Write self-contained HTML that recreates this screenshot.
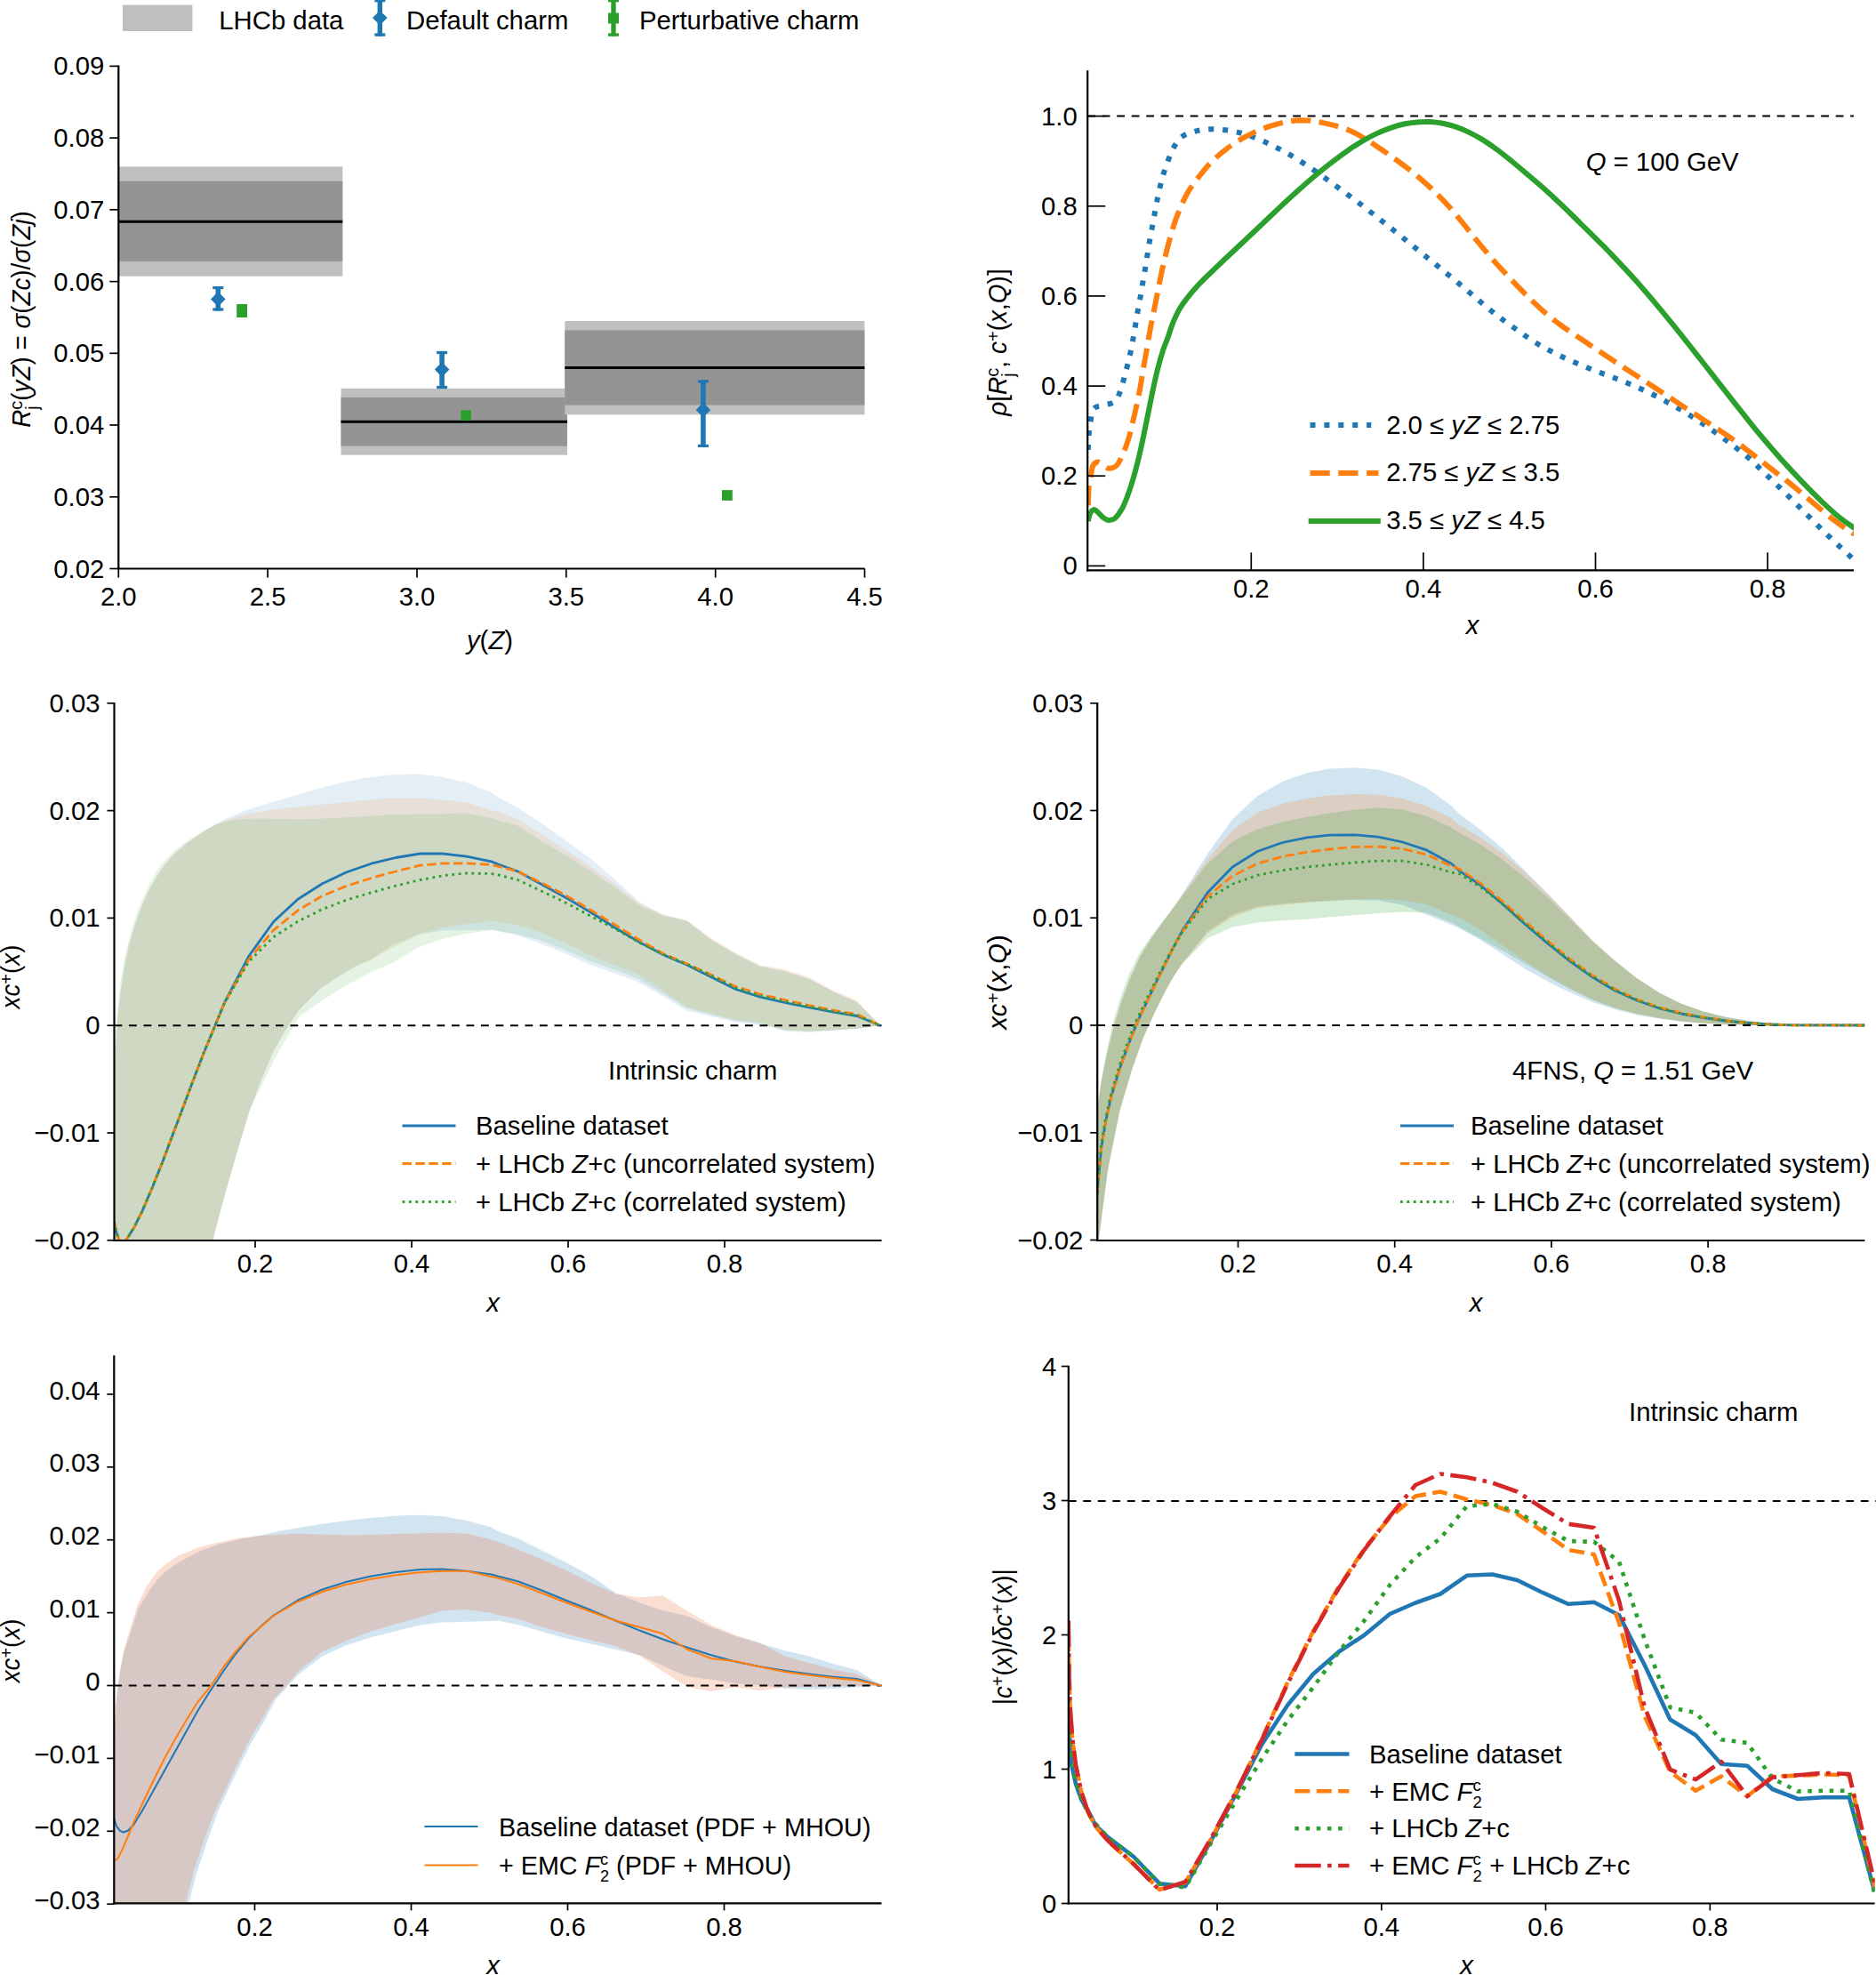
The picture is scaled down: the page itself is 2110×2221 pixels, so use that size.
<!DOCTYPE html>
<html lang="en"><head><meta charset="utf-8"><title>Figure</title>
<style>html,body{margin:0;padding:0;background:#fff}svg{display:block}text{font-family:"Liberation Sans",Arial,Helvetica,sans-serif;fill:#000}</style></head><body>
<svg width="2110" height="2221" viewBox="0 0 2110 2221">
<rect width="2110" height="2221" fill="#fff"/>
<rect x="137.9" y="5.6" width="78.5" height="29.4" fill="#bfbfbf"/>
<text x="246.3" y="33.3" text-anchor="start" font-size="29.3">LHCb data</text>
<line x1="427.3" y1="-5.0" x2="427.3" y2="40.8" stroke="#1f77b4" stroke-width="5.4" stroke-linecap="butt"/>
<line x1="421.3" y1="39.1" x2="433.3" y2="39.1" stroke="#1f77b4" stroke-width="3.4" stroke-linecap="butt"/>
<line x1="421.3" y1="0.6" x2="433.3" y2="0.6" stroke="#1f77b4" stroke-width="3.4" stroke-linecap="butt"/>
<polygon points="427.3,12.0 435.7,20.1 427.3,28.2 418.9,20.1" fill="#1f77b4"/>
<text x="457.0" y="33.3" text-anchor="start" font-size="29.3">Default charm</text>
<line x1="690.0" y1="-5.0" x2="690.0" y2="40.8" stroke="#2ca02c" stroke-width="5.4" stroke-linecap="butt"/>
<line x1="684.0" y1="39.1" x2="696.0" y2="39.1" stroke="#2ca02c" stroke-width="3.4" stroke-linecap="butt"/>
<line x1="684.0" y1="0.6" x2="696.0" y2="0.6" stroke="#2ca02c" stroke-width="3.4" stroke-linecap="butt"/>
<rect x="684.0" y="14.5" width="12" height="12" fill="#2ca02c"/>
<text x="718.9" y="33.3" text-anchor="start" font-size="29.3">Perturbative charm</text>
<rect x="133.3" y="187.3" width="252.0" height="123.4" fill="#bfbfbf"/>
<rect x="133.3" y="203.7" width="252.0" height="90.1" fill="#949494"/>
<line x1="133.3" y1="249.2" x2="385.3" y2="249.2" stroke="#000" stroke-width="3" stroke-linecap="butt"/>
<rect x="383.5" y="437.0" width="254.5" height="74.6" fill="#bfbfbf"/>
<rect x="383.5" y="446.9" width="254.5" height="54.8" fill="#949494"/>
<line x1="383.5" y1="474.3" x2="638.0" y2="474.3" stroke="#000" stroke-width="3" stroke-linecap="butt"/>
<rect x="635.3" y="361.0" width="337.1" height="105.3" fill="#bfbfbf"/>
<rect x="635.3" y="371.5" width="337.1" height="84.1" fill="#949494"/>
<line x1="635.3" y1="413.4" x2="972.4" y2="413.4" stroke="#000" stroke-width="3" stroke-linecap="butt"/>
<line x1="245.3" y1="322.0" x2="245.3" y2="349.6" stroke="#1f77b4" stroke-width="5.6" stroke-linecap="butt"/>
<line x1="239.3" y1="323.6" x2="251.3" y2="323.6" stroke="#1f77b4" stroke-width="3.2" stroke-linecap="butt"/>
<line x1="239.3" y1="348.0" x2="251.3" y2="348.0" stroke="#1f77b4" stroke-width="3.2" stroke-linecap="butt"/>
<polygon points="245.3,328.1 253.6,336.4 245.3,344.7 237.0,336.4" fill="#1f77b4"/>
<line x1="497.1" y1="394.9" x2="497.1" y2="437.1" stroke="#1f77b4" stroke-width="5.6" stroke-linecap="butt"/>
<line x1="491.1" y1="396.5" x2="503.1" y2="396.5" stroke="#1f77b4" stroke-width="3.2" stroke-linecap="butt"/>
<line x1="491.1" y1="435.5" x2="503.1" y2="435.5" stroke="#1f77b4" stroke-width="3.2" stroke-linecap="butt"/>
<polygon points="497.1,407.3 505.4,415.6 497.1,423.9 488.8,415.6" fill="#1f77b4"/>
<line x1="790.9" y1="427.3" x2="790.9" y2="503.0" stroke="#1f77b4" stroke-width="5.6" stroke-linecap="butt"/>
<line x1="784.9" y1="428.9" x2="796.9" y2="428.9" stroke="#1f77b4" stroke-width="3.2" stroke-linecap="butt"/>
<line x1="784.9" y1="501.4" x2="796.9" y2="501.4" stroke="#1f77b4" stroke-width="3.2" stroke-linecap="butt"/>
<polygon points="790.9,452.7 799.2,461.0 790.9,469.3 782.6,461.0" fill="#1f77b4"/>
<rect x="266.2" y="342.0" width="11.8" height="15.0" fill="#2ca02c"/>
<rect x="518.2" y="461.3" width="11.8" height="11.8" fill="#2ca02c"/>
<rect x="812.0" y="551.1" width="11.8" height="11.8" fill="#2ca02c"/>
<line x1="133.3" y1="73.6" x2="133.3" y2="640.6" stroke="#000" stroke-width="2.2" stroke-linecap="butt"/>
<line x1="132.2" y1="639.5" x2="972.5" y2="639.5" stroke="#000" stroke-width="2.2" stroke-linecap="butt"/>
<line x1="133.3" y1="639.5" x2="133.3" y2="649.5" stroke="#000" stroke-width="1.7" stroke-linecap="butt"/>
<text x="133.3" y="680.5" text-anchor="middle" font-size="29.3">2.0</text>
<line x1="301.1" y1="639.5" x2="301.1" y2="649.5" stroke="#000" stroke-width="1.7" stroke-linecap="butt"/>
<text x="301.1" y="680.5" text-anchor="middle" font-size="29.3">2.5</text>
<line x1="469.0" y1="639.5" x2="469.0" y2="649.5" stroke="#000" stroke-width="1.7" stroke-linecap="butt"/>
<text x="469.0" y="680.5" text-anchor="middle" font-size="29.3">3.0</text>
<line x1="636.8" y1="639.5" x2="636.8" y2="649.5" stroke="#000" stroke-width="1.7" stroke-linecap="butt"/>
<text x="636.8" y="680.5" text-anchor="middle" font-size="29.3">3.5</text>
<line x1="804.7" y1="639.5" x2="804.7" y2="649.5" stroke="#000" stroke-width="1.7" stroke-linecap="butt"/>
<text x="804.7" y="680.5" text-anchor="middle" font-size="29.3">4.0</text>
<line x1="972.5" y1="639.5" x2="972.5" y2="649.5" stroke="#000" stroke-width="1.7" stroke-linecap="butt"/>
<text x="972.5" y="680.5" text-anchor="middle" font-size="29.3">4.5</text>
<line x1="123.3" y1="639.5" x2="133.3" y2="639.5" stroke="#000" stroke-width="1.7" stroke-linecap="butt"/>
<text x="117.3" y="649.5" text-anchor="end" font-size="29.3">0.02</text>
<line x1="123.3" y1="558.8" x2="133.3" y2="558.8" stroke="#000" stroke-width="1.7" stroke-linecap="butt"/>
<text x="117.3" y="568.8" text-anchor="end" font-size="29.3">0.03</text>
<line x1="123.3" y1="478.0" x2="133.3" y2="478.0" stroke="#000" stroke-width="1.7" stroke-linecap="butt"/>
<text x="117.3" y="488.0" text-anchor="end" font-size="29.3">0.04</text>
<line x1="123.3" y1="397.3" x2="133.3" y2="397.3" stroke="#000" stroke-width="1.7" stroke-linecap="butt"/>
<text x="117.3" y="407.3" text-anchor="end" font-size="29.3">0.05</text>
<line x1="123.3" y1="316.6" x2="133.3" y2="316.6" stroke="#000" stroke-width="1.7" stroke-linecap="butt"/>
<text x="117.3" y="326.6" text-anchor="end" font-size="29.3">0.06</text>
<line x1="123.3" y1="235.8" x2="133.3" y2="235.8" stroke="#000" stroke-width="1.7" stroke-linecap="butt"/>
<text x="117.3" y="245.8" text-anchor="end" font-size="29.3">0.07</text>
<line x1="123.3" y1="155.1" x2="133.3" y2="155.1" stroke="#000" stroke-width="1.7" stroke-linecap="butt"/>
<text x="117.3" y="165.1" text-anchor="end" font-size="29.3">0.08</text>
<line x1="123.3" y1="74.4" x2="133.3" y2="74.4" stroke="#000" stroke-width="1.7" stroke-linecap="butt"/>
<text x="117.3" y="84.4" text-anchor="end" font-size="29.3">0.09</text>
<text x="551.0" y="729.5" text-anchor="middle" font-size="29.3"><tspan font-style="italic">y</tspan>(<tspan font-style="italic">Z</tspan>)</text>
<text id="vt1" transform="translate(34.2 359.0) rotate(-90) scale(0.95 1)" text-anchor="middle" font-size="29.3"><tspan font-style="italic">R</tspan><tspan font-size="21" dy="-9.6">c</tspan><tspan font-size="21" dy="18.4" dx="-10.5">j</tspan><tspan dy="-8.8" dx="5.8">(</tspan><tspan font-style="italic">yZ</tspan>) = <tspan font-style="italic">σ</tspan>(<tspan font-style="italic">Zc</tspan>)/<tspan font-style="italic">σ</tspan>(<tspan font-style="italic">Zj</tspan>)</text>
<clipPath id="c2"><rect x="1223.2" y="70.0" width="861.8" height="571.3"/></clipPath>
<line x1="1223.2" y1="130.6" x2="2085.0" y2="130.6" stroke="#000" stroke-width="2" stroke-linecap="butt" stroke-dasharray="8.8 7.7"/>
<path d="M1223.8 505.9 C1223.9 503.2 1224.1 495.1 1224.6 489.9 C1225.0 484.7 1225.6 479.8 1226.5 474.7 C1227.4 469.6 1227.7 462.8 1230.2 459.6 C1232.7 456.4 1237.4 457.0 1241.4 455.6 C1245.4 454.2 1251.0 454.3 1254.2 451.2 C1257.5 448.1 1259.1 442.1 1260.9 437.2 C1262.7 432.3 1263.8 426.9 1265.1 422.0 C1266.4 417.1 1267.7 412.5 1268.9 407.6 C1270.1 402.7 1271.3 397.5 1272.3 392.4 C1273.3 387.3 1274.2 382.3 1275.1 377.2 C1276.0 372.1 1276.8 366.8 1277.7 361.8 C1278.6 356.8 1279.3 352.1 1280.2 347.1 C1281.1 342.1 1282.1 337.0 1283.0 331.9 C1283.9 326.8 1284.7 321.7 1285.5 316.7 C1286.3 311.7 1287.3 306.8 1288.1 301.8 C1288.9 296.8 1289.7 291.7 1290.5 286.6 C1291.3 281.5 1292.0 276.5 1292.9 271.4 C1293.8 266.3 1294.9 260.9 1295.8 255.9 C1296.7 250.9 1297.6 246.2 1298.5 241.1 C1299.4 236.0 1300.4 230.6 1301.4 225.5 C1302.4 220.4 1303.5 215.3 1304.7 210.3 C1305.9 205.3 1307.1 200.5 1308.6 195.6 C1310.1 190.7 1311.8 185.7 1313.7 180.8 C1315.6 175.9 1317.3 170.8 1319.8 166.4 C1322.3 162.0 1324.8 157.4 1328.5 154.4 C1332.2 151.4 1337.3 149.8 1342.1 148.4 C1346.8 146.9 1351.9 145.9 1357.0 145.5 C1362.1 145.0 1367.4 145.3 1372.5 145.7 C1377.6 146.0 1382.8 146.7 1387.7 147.7 C1392.6 148.6 1397.2 149.8 1402.1 151.4 C1407.0 153.0 1412.5 155.2 1417.3 157.2 C1422.1 159.2 1426.3 161.2 1430.9 163.5 C1435.5 165.8 1440.3 168.3 1444.8 170.8 C1449.3 173.3 1453.7 175.8 1458.1 178.5 C1462.5 181.2 1467.1 184.1 1471.4 187.0 C1475.7 189.9 1479.9 192.8 1484.1 195.7 C1488.3 198.7 1492.4 201.7 1496.5 204.7 C1500.6 207.7 1504.9 210.8 1508.9 213.8 C1513.0 216.8 1516.7 219.5 1520.8 222.5 C1524.9 225.5 1529.2 228.9 1533.3 232.0 C1537.4 235.1 1541.3 238.2 1545.3 241.4 C1549.3 244.5 1553.3 247.6 1557.3 250.8 C1561.3 254.0 1565.2 257.1 1569.2 260.3 C1573.2 263.5 1577.2 266.8 1581.2 270.1 C1585.2 273.3 1589.2 276.6 1593.2 279.9 C1597.2 283.2 1601.5 286.6 1605.5 289.9 C1609.5 293.2 1613.5 296.3 1617.5 299.6 C1621.5 302.8 1625.2 305.9 1629.2 309.2 C1633.2 312.4 1637.2 315.8 1641.2 319.1 C1645.2 322.4 1649.3 325.8 1653.2 329.2 C1657.1 332.5 1660.8 335.7 1664.7 339.1 C1668.6 342.4 1672.7 345.9 1676.7 349.1 C1680.7 352.3 1684.7 355.4 1688.7 358.4 C1692.7 361.4 1696.6 364.1 1700.7 367.1 C1704.8 370.1 1709.2 373.2 1713.5 376.2 C1717.8 379.1 1721.9 382.0 1726.3 384.8 C1730.7 387.5 1735.4 390.2 1739.9 392.6 C1744.4 395.1 1749.0 397.3 1753.5 399.5 C1758.0 401.7 1762.4 403.7 1767.1 405.8 C1771.8 407.9 1776.7 410.0 1781.5 411.9 C1786.3 413.9 1791.0 415.8 1795.8 417.6 C1800.6 419.4 1805.7 421.2 1810.4 423.0 C1815.2 424.8 1819.5 426.4 1824.3 428.3 C1829.0 430.2 1834.1 432.3 1838.9 434.4 C1843.7 436.4 1848.2 438.5 1852.9 440.7 C1857.6 442.9 1862.4 445.4 1866.9 447.8 C1871.5 450.2 1875.8 452.5 1880.2 455.0 C1884.7 457.5 1889.1 459.9 1893.6 462.6 C1898.1 465.3 1902.8 468.3 1907.0 471.0 C1911.2 473.8 1914.9 476.3 1919.1 479.2 C1923.2 482.0 1927.8 485.2 1931.9 488.2 C1936.1 491.2 1940.0 494.2 1944.0 497.2 C1948.0 500.2 1952.2 503.1 1956.2 506.3 C1960.2 509.5 1964.4 512.9 1968.3 516.3 C1972.2 519.8 1975.8 523.4 1979.6 527.0 C1983.4 530.6 1987.3 534.4 1991.0 538.0 C1994.7 541.6 1998.2 545.0 2001.9 548.5 C2005.6 552.1 2009.2 555.7 2012.9 559.3 C2016.6 563.0 2020.2 566.6 2023.8 570.2 C2027.4 573.8 2031.1 577.5 2034.8 581.2 C2038.5 584.9 2042.1 588.5 2045.7 592.1 C2049.3 595.7 2052.9 599.3 2056.6 602.8 C2060.3 606.4 2064.2 610.0 2068.0 613.5 C2071.8 617.1 2076.4 621.3 2079.4 624.1 C2082.4 627.0 2084.9 629.4 2086.0 630.5" fill="none" stroke="#1f77b4" stroke-width="6" stroke-linejoin="round" stroke-dasharray="6 9.9" clip-path="url(#c2)"/>
<path d="M1223.8 568.3 C1223.9 565.1 1224.1 554.7 1224.6 549.1 C1225.1 543.5 1226.2 539.0 1227.0 534.7 C1227.8 530.4 1228.1 526.0 1229.4 523.5 C1230.7 521.0 1233.1 519.6 1235.0 519.5 C1236.9 519.4 1238.6 521.5 1240.6 522.7 C1242.6 523.9 1244.5 526.6 1247.0 526.7 C1249.5 526.8 1253.1 526.2 1255.8 523.5 C1258.5 520.8 1260.7 515.8 1263.0 510.7 C1265.3 505.6 1267.5 499.2 1269.4 493.1 C1271.3 487.0 1272.6 480.6 1274.2 474.0 C1275.8 467.4 1277.5 460.1 1279.0 453.2 C1280.5 446.3 1281.8 439.3 1283.0 432.4 C1284.2 425.5 1285.3 418.5 1286.5 411.6 C1287.7 404.7 1289.0 397.7 1290.2 390.8 C1291.4 383.9 1292.1 378.5 1293.7 370.0 C1295.3 361.5 1297.7 350.5 1299.8 339.9 C1301.9 329.3 1304.1 317.2 1306.5 306.3 C1308.9 295.4 1311.5 284.4 1314.2 274.3 C1316.9 264.2 1319.5 254.8 1322.9 245.5 C1326.4 236.2 1330.5 226.3 1334.9 218.3 C1339.3 210.3 1344.5 203.8 1349.3 197.6 C1354.1 191.4 1358.6 186.0 1363.7 181.0 C1368.8 175.9 1374.1 171.5 1379.7 167.3 C1385.3 163.1 1392.2 158.7 1397.3 155.7 C1402.4 152.7 1405.6 151.2 1410.1 149.1 C1414.6 147.0 1419.7 145.0 1424.5 143.2 C1429.3 141.5 1434.4 140.0 1438.9 138.8 C1443.4 137.7 1447.7 136.8 1451.7 136.3 C1455.7 135.7 1459.2 135.4 1462.9 135.3 C1466.6 135.3 1470.1 135.4 1474.1 135.8 C1478.1 136.3 1482.4 137.0 1486.9 137.9 C1491.4 138.8 1496.5 139.9 1501.3 141.2 C1506.1 142.6 1510.9 143.9 1516.0 146.0 C1521.1 148.1 1526.7 151.0 1532.0 154.0 C1537.3 157.0 1542.7 160.7 1548.0 164.2 C1553.3 167.7 1558.7 171.4 1564.0 175.2 C1569.3 179.0 1574.7 182.7 1580.0 186.8 C1585.3 190.9 1590.7 195.1 1596.0 199.6 C1601.3 204.1 1606.6 208.8 1611.9 213.9 C1617.2 219.0 1622.6 224.4 1627.9 230.3 C1633.2 236.2 1638.6 242.6 1643.9 249.1 C1649.2 255.6 1654.6 262.6 1659.9 269.1 C1665.2 275.6 1670.6 282.1 1675.9 288.3 C1681.2 294.5 1686.6 300.3 1691.9 306.1 C1697.2 311.9 1702.6 317.4 1707.9 322.9 C1713.2 328.4 1718.6 333.8 1723.9 338.9 C1729.2 344.0 1734.6 349.0 1739.9 353.6 C1745.2 358.1 1750.6 362.1 1755.9 366.0 C1761.2 369.9 1767.2 373.7 1771.9 376.9 C1776.6 380.0 1780.0 382.3 1784.0 385.0 C1788.0 387.7 1789.6 388.8 1795.8 393.0 C1802.0 397.1 1812.7 404.2 1821.3 409.9 C1829.9 415.6 1838.7 421.3 1847.4 427.0 C1856.1 432.7 1865.0 438.4 1873.6 444.1 C1882.2 449.8 1890.6 455.4 1899.1 461.0 C1907.6 466.6 1916.1 472.1 1924.6 477.8 C1933.1 483.4 1943.1 490.0 1950.1 494.9 C1957.1 499.8 1961.7 503.6 1966.4 507.2 C1971.1 510.7 1974.2 513.4 1978.2 516.5 C1982.2 519.5 1986.1 522.5 1990.1 525.6 C1994.1 528.7 1998.3 531.9 2002.4 535.1 C2006.5 538.3 2010.7 541.6 2014.7 544.9 C2018.7 548.2 2022.5 551.4 2026.5 554.7 C2030.5 558.0 2034.5 561.5 2038.4 564.8 C2042.4 568.1 2046.2 571.5 2050.2 574.8 C2054.1 578.1 2058.6 581.7 2062.1 584.4 C2065.6 587.2 2068.2 589.0 2071.2 591.2 C2074.2 593.4 2077.8 595.8 2080.3 597.4 C2082.8 599.0 2085.1 600.4 2086.0 601.0" fill="none" stroke="#ff7f0e" stroke-width="6" stroke-linejoin="round" stroke-dasharray="22.2 9.6" clip-path="url(#c2)"/>
<path d="M1223.8 585.9 C1224.2 584.4 1225.1 579.2 1226.2 577.1 C1227.3 575.0 1228.9 573.4 1230.2 573.1 C1231.5 572.8 1232.5 574.0 1234.2 575.5 C1235.9 577.0 1238.5 580.3 1240.6 581.9 C1242.7 583.5 1244.7 585.0 1247.0 585.1 C1249.3 585.2 1251.8 584.7 1254.2 582.7 C1256.6 580.7 1259.1 577.1 1261.4 573.1 C1263.7 569.1 1265.7 564.3 1267.8 558.7 C1269.9 553.1 1272.2 546.2 1274.2 539.5 C1276.2 532.8 1278.1 525.6 1279.8 518.7 C1281.5 511.8 1283.1 504.8 1284.6 497.9 C1286.1 491.0 1287.4 484.3 1288.9 477.1 C1290.4 469.9 1291.9 462.0 1293.4 454.8 C1294.9 447.6 1296.2 440.9 1297.7 434.0 C1299.2 427.1 1300.7 420.1 1302.5 413.2 C1304.3 406.3 1306.8 397.9 1308.6 392.4 C1310.4 386.9 1311.7 384.8 1313.4 380.0 C1315.1 375.2 1316.7 369.4 1318.9 363.9 C1321.2 358.4 1324.0 352.1 1326.9 347.1 C1329.8 342.1 1333.0 338.1 1336.5 333.6 C1340.0 329.2 1343.2 325.4 1347.7 320.5 C1352.2 315.7 1357.8 310.3 1363.7 304.7 C1369.6 299.0 1376.5 292.5 1382.9 286.5 C1389.3 280.5 1395.7 274.5 1402.1 268.5 C1408.5 262.5 1414.9 256.4 1421.3 250.3 C1427.7 244.2 1434.1 238.1 1440.5 232.1 C1446.9 226.1 1453.3 220.2 1459.7 214.5 C1466.1 208.8 1472.8 203.0 1478.9 197.8 C1485.0 192.7 1490.3 188.3 1496.5 183.6 C1502.7 178.8 1510.1 173.3 1516.0 169.2 C1521.9 165.1 1526.7 162.0 1532.0 158.9 C1537.3 155.7 1542.7 152.9 1548.0 150.4 C1553.3 147.8 1558.7 145.6 1564.0 143.8 C1569.3 141.9 1574.7 140.4 1580.0 139.3 C1585.3 138.3 1591.2 137.6 1596.0 137.2 C1600.8 136.8 1604.5 136.8 1608.7 137.0 C1613.0 137.3 1617.0 137.7 1621.5 138.5 C1626.0 139.4 1630.8 140.5 1635.9 142.2 C1641.0 143.9 1646.6 146.1 1651.9 148.6 C1657.2 151.1 1662.6 154.1 1667.9 157.4 C1673.2 160.7 1678.6 164.5 1683.9 168.4 C1689.2 172.3 1694.6 176.7 1699.9 181.0 C1705.2 185.3 1710.6 189.9 1715.9 194.4 C1721.2 198.9 1726.6 203.4 1731.9 208.1 C1737.2 212.8 1742.6 217.6 1747.9 222.5 C1753.2 227.4 1758.6 232.5 1763.9 237.7 C1769.2 242.9 1773.9 247.5 1779.9 253.5 C1785.9 259.4 1795.3 268.7 1800.0 273.4 C1804.7 278.0 1801.1 274.1 1807.9 281.3 C1814.7 288.5 1829.2 303.6 1840.8 316.6 C1852.3 329.7 1865.0 344.8 1877.2 359.6 C1889.4 374.4 1901.6 390.1 1913.7 405.5 C1925.8 420.9 1940.4 439.8 1950.1 452.2 C1959.8 464.5 1966.5 472.8 1971.9 479.6 C1977.4 486.4 1978.7 487.9 1982.8 492.8 C1986.9 497.6 1992.0 503.5 1996.5 508.7 C2001.0 513.9 2005.5 518.9 2010.1 523.9 C2014.6 528.9 2019.2 533.7 2023.8 538.5 C2028.4 543.3 2032.9 548.0 2037.5 552.6 C2042.1 557.2 2046.6 561.8 2051.2 566.1 C2055.8 570.4 2061.0 575.2 2064.8 578.5 C2068.6 581.7 2070.4 583.1 2073.9 585.7 C2077.4 588.2 2084.0 592.6 2086.0 594.0" fill="none" stroke="#2ca02c" stroke-width="6" stroke-linejoin="round" clip-path="url(#c2)"/>
<text x="1783.7" y="191.6" text-anchor="start" font-size="29.3"><tspan font-style="italic">Q</tspan> = 100 GeV</text>
<line x1="1473.5" y1="478.1" x2="1542.2" y2="478.1" stroke="#1f77b4" stroke-width="6" stroke-linecap="butt" stroke-dasharray="6 9.9"/>
<line x1="1473.5" y1="531.9" x2="1550.5" y2="531.9" stroke="#ff7f0e" stroke-width="6" stroke-linecap="butt" stroke-dasharray="22.2 9.6"/>
<line x1="1471.7" y1="585.9" x2="1552.8" y2="585.9" stroke="#2ca02c" stroke-width="6" stroke-linecap="butt"/>
<text x="1559.2" y="487.6" text-anchor="start" font-size="29.3">2.0 ≤ <tspan font-style="italic">yZ</tspan> ≤ 2.75</text>
<text x="1559.2" y="541.4" text-anchor="start" font-size="29.3">2.75 ≤ <tspan font-style="italic">yZ</tspan> ≤ 3.5</text>
<text x="1559.2" y="595.2" text-anchor="start" font-size="29.3">3.5 ≤ <tspan font-style="italic">yZ</tspan> ≤ 4.5</text>
<line x1="1223.2" y1="79.2" x2="1223.2" y2="642.4" stroke="#000" stroke-width="2.2" stroke-linecap="butt"/>
<line x1="1222.1" y1="641.3" x2="2085.0" y2="641.3" stroke="#000" stroke-width="2.2" stroke-linecap="butt"/>
<line x1="1407.3" y1="641.3" x2="1407.3" y2="621.3" stroke="#000" stroke-width="1.7" stroke-linecap="butt"/>
<text x="1407.3" y="671.8" text-anchor="middle" font-size="29.3">0.2</text>
<line x1="1600.9" y1="641.3" x2="1600.9" y2="621.3" stroke="#000" stroke-width="1.7" stroke-linecap="butt"/>
<text x="1600.9" y="671.8" text-anchor="middle" font-size="29.3">0.4</text>
<line x1="1794.5" y1="641.3" x2="1794.5" y2="621.3" stroke="#000" stroke-width="1.7" stroke-linecap="butt"/>
<text x="1794.5" y="671.8" text-anchor="middle" font-size="29.3">0.6</text>
<line x1="1988.1" y1="641.3" x2="1988.1" y2="621.3" stroke="#000" stroke-width="1.7" stroke-linecap="butt"/>
<text x="1988.1" y="671.8" text-anchor="middle" font-size="29.3">0.8</text>
<line x1="1223.2" y1="636.4" x2="1243.2" y2="636.4" stroke="#000" stroke-width="1.7" stroke-linecap="butt"/>
<text x="1211.8" y="646.4" text-anchor="end" font-size="29.3">0</text>
<line x1="1223.2" y1="535.2" x2="1243.2" y2="535.2" stroke="#000" stroke-width="1.7" stroke-linecap="butt"/>
<text x="1211.8" y="545.2" text-anchor="end" font-size="29.3">0.2</text>
<line x1="1223.2" y1="434.1" x2="1243.2" y2="434.1" stroke="#000" stroke-width="1.7" stroke-linecap="butt"/>
<text x="1211.8" y="444.1" text-anchor="end" font-size="29.3">0.4</text>
<line x1="1223.2" y1="332.9" x2="1243.2" y2="332.9" stroke="#000" stroke-width="1.7" stroke-linecap="butt"/>
<text x="1211.8" y="342.9" text-anchor="end" font-size="29.3">0.6</text>
<line x1="1223.2" y1="231.8" x2="1243.2" y2="231.8" stroke="#000" stroke-width="1.7" stroke-linecap="butt"/>
<text x="1211.8" y="241.8" text-anchor="end" font-size="29.3">0.8</text>
<line x1="1223.2" y1="130.6" x2="1243.2" y2="130.6" stroke="#000" stroke-width="1.7" stroke-linecap="butt"/>
<text x="1211.8" y="140.6" text-anchor="end" font-size="29.3">1.0</text>
<text x="1656.0" y="713.0" text-anchor="middle" font-size="29.3"><tspan font-style="italic">x</tspan></text>
<text id="vt2" transform="translate(1132.4 385.0) rotate(-90) scale(0.957 1)" text-anchor="middle" font-size="29.3"><tspan font-style="italic">ρ</tspan>[<tspan font-style="italic">R</tspan><tspan font-size="21" dy="-9.6">c</tspan><tspan font-size="21" dy="18.4" dx="-10.5">j</tspan><tspan dy="-8.8" dx="5.8">, </tspan><tspan font-style="italic">c</tspan><tspan font-size="21" dy="-8.5">+</tspan><tspan dy="8.5">(</tspan><tspan font-style="italic">x</tspan>,<tspan font-style="italic">Q</tspan>)]</text>
<clipPath id="c3"><rect x="128.5" y="780.0" width="863.0" height="615.0"/></clipPath>
<polygon points="128.0,1212.5 129.5,1187.5 131.5,1153.2 135.0,1119.2 139.5,1089.5 145.2,1062.2 152.0,1039.5 159.0,1020.0 167.0,1002.0 176.0,986.0 185.2,972.2 196.5,959.8 210.2,948.2 226.2,937.0 242.0,926.8 255.8,920.0 274.0,912.0 292.2,906.2 315.0,899.5 337.8,893.0 360.0,886.2 385.0,880.0 410.0,875.0 440.0,871.2 470.0,870.5 497.5,873.8 525.0,880.0 552.5,891.2 560.0,896.2 582.5,908.8 610.0,926.2 637.5,946.2 665.0,966.2 692.5,990.0 720.0,1015.0 746.2,1028.8 772.5,1035.0 800.0,1056.2 827.5,1072.5 855.0,1086.2 882.5,1091.2 910.0,1100.0 937.5,1115.0 963.8,1126.2 990.0,1153.2 990.0,1153.2 963.8,1157.0 937.5,1158.8 910.0,1160.0 882.5,1158.8 855.0,1152.5 827.5,1149.5 800.0,1143.0 772.0,1136.4 745.0,1120.0 716.3,1103.8 690.0,1094.0 662.6,1084.6 635.0,1072.0 607.0,1060.6 582.0,1052.0 553.2,1045.8 525.0,1046.0 497.6,1046.6 472.6,1050.2 440.0,1063.5 417.0,1079.0 401.7,1085.8 378.7,1099.2 359.5,1112.6 336.4,1135.7 321.1,1158.7 307.7,1181.7 292.3,1218.2 280.8,1248.9 273.1,1273.8 263.5,1306.4 252.0,1346.7 244.3,1375.5 239.5,1394.7 233.0,1420.0 128.5,1420.0" fill="#1f77b4" fill-opacity="0.125" stroke="none" clip-path="url(#c3)"/>
<polygon points="128.0,1212.5 129.5,1187.5 131.5,1153.2 135.0,1119.2 139.5,1089.5 145.2,1062.2 152.0,1039.5 159.0,1020.0 167.0,1002.0 176.0,986.0 185.2,972.2 196.5,959.8 210.2,948.2 226.2,937.0 242.0,927.8 255.8,922.0 274.0,916.5 292.2,913.0 315.0,909.5 337.8,907.2 360.0,905.0 385.0,902.5 410.0,900.0 440.0,897.5 470.0,897.5 497.5,899.5 525.0,902.5 552.5,911.2 560.0,912.5 582.5,921.2 610.0,938.8 637.5,956.2 665.0,975.0 692.5,995.0 720.0,1016.2 746.2,1028.8 772.5,1035.0 800.0,1055.0 827.5,1071.2 855.0,1085.0 882.5,1090.0 910.0,1098.8 937.5,1113.8 963.8,1125.0 990.0,1153.2 990.0,1153.2 963.8,1156.5 937.5,1158.0 910.0,1159.5 882.5,1158.0 855.0,1150.0 827.5,1146.8 800.0,1140.0 772.0,1132.6 745.0,1113.0 716.3,1095.1 690.0,1085.0 662.6,1074.0 635.0,1060.0 607.0,1048.1 582.0,1040.4 553.2,1035.7 525.0,1039.0 497.6,1043.3 472.6,1050.2 440.0,1066.4 417.0,1080.0 401.7,1085.8 378.7,1099.2 359.5,1112.6 336.4,1135.7 321.1,1158.7 307.7,1181.7 292.3,1218.2 280.8,1248.9 273.1,1273.8 263.5,1306.4 252.0,1346.7 244.3,1375.5 239.5,1394.7 233.0,1420.0 128.5,1420.0" fill="#ff7f0e" fill-opacity="0.125" stroke="none" clip-path="url(#c3)"/>
<polygon points="128.0,1200.0 129.5,1176.0 131.5,1142.0 135.0,1107.8 139.5,1080.5 145.2,1055.5 152.0,1032.5 159.0,1014.5 167.0,996.2 176.0,980.2 185.2,967.8 196.5,956.2 210.2,946.0 226.2,935.8 242.0,927.8 255.8,923.2 274.0,921.0 292.2,920.5 315.0,921.0 337.8,921.2 360.0,920.8 385.0,919.5 410.0,918.0 440.0,916.2 470.0,915.5 497.5,915.5 525.0,914.5 552.5,920.0 560.0,922.5 582.5,928.8 610.0,946.2 637.5,962.5 665.0,980.0 692.5,998.8 720.0,1018.8 746.2,1030.0 772.5,1035.8 800.0,1057.0 827.5,1073.2 855.0,1087.0 882.5,1092.5 910.0,1101.2 937.5,1115.8 963.8,1127.0 990.0,1153.2 990.0,1153.2 963.8,1157.0 937.5,1158.8 910.0,1160.8 882.5,1159.5 855.0,1151.2 827.5,1148.0 800.0,1141.2 772.0,1133.5 745.0,1117.0 716.3,1099.9 690.0,1090.0 662.6,1080.2 635.0,1068.0 607.0,1057.1 582.0,1050.4 553.2,1045.6 525.0,1050.0 497.6,1055.8 472.6,1064.4 440.0,1083.6 417.0,1093.4 388.3,1108.8 359.5,1127.0 336.4,1143.3 309.6,1189.4 295.0,1219.0 280.8,1248.9 273.1,1273.8 263.5,1306.4 252.0,1346.7 244.3,1375.5 239.5,1394.7 233.0,1420.0 128.5,1420.0" fill="#2ca02c" fill-opacity="0.125" stroke="none" clip-path="url(#c3)"/>
<line x1="128.5" y1="1153.2" x2="991.5" y2="1153.2" stroke="#000" stroke-width="2" stroke-linecap="butt" stroke-dasharray="8.8 7.7"/>
<polyline points="128.2,1373.6 131.0,1386.0 134.0,1394.7 138.0,1398.0 141.7,1394.7 150.3,1381.3 159.9,1362.1 171.4,1335.2 182.9,1306.4 194.4,1275.7 206.0,1245.0 217.5,1214.3 229.0,1184.6 242.0,1153.1 252.5,1127.5 280.0,1075.0 307.5,1036.8 335.0,1011.2 362.5,993.8 390.0,980.8 417.5,971.2 445.0,964.5 472.5,960.0 497.5,960.0 525.0,963.2 552.5,968.8 560.0,971.8 582.5,980.0 610.0,995.0 637.5,1010.0 665.0,1026.2 692.5,1043.8 720.0,1060.0 746.2,1073.8 772.5,1085.0 800.0,1098.8 827.5,1112.5 855.0,1121.2 882.5,1127.5 910.0,1133.0 937.5,1138.2 963.8,1142.5 990.0,1153.2" fill="none" stroke="#1f77b4" stroke-width="2.8" stroke-linecap="butt" stroke-linejoin="round" clip-path="url(#c3)"/>
<polyline points="128.2,1373.6 131.0,1386.0 134.0,1394.7 138.0,1398.0 141.7,1394.7 150.3,1381.3 159.9,1362.1 171.4,1335.2 182.9,1306.4 194.4,1275.7 206.0,1245.0 217.5,1214.3 229.0,1184.6 242.0,1153.1 252.5,1127.8 280.0,1078.8 307.5,1046.2 335.0,1023.8 362.5,1007.5 390.0,996.2 417.5,987.5 445.0,980.0 472.5,973.2 500.0,970.8 525.0,970.8 552.5,972.5 560.0,974.2 582.5,980.0 610.0,993.2 637.5,1007.5 665.0,1023.8 692.5,1040.5 720.0,1057.5 746.2,1072.5 772.5,1083.8 800.0,1096.2 827.5,1109.5 855.0,1118.0 882.5,1124.5 910.0,1130.5 937.5,1136.2 963.8,1140.8 990.0,1153.2" fill="none" stroke="#ff7f0e" stroke-width="2.8" stroke-linecap="butt" stroke-linejoin="round" stroke-dasharray="10.4 4.5" clip-path="url(#c3)"/>
<polyline points="128.2,1373.6 131.0,1386.0 134.0,1394.7 138.0,1398.0 141.7,1394.7 150.3,1381.3 159.9,1362.1 171.4,1335.2 182.9,1306.4 194.4,1275.7 206.0,1245.0 217.5,1214.3 229.0,1184.6 242.0,1153.1 252.5,1128.0 280.0,1081.2 307.5,1053.8 335.0,1036.2 362.5,1022.5 390.0,1012.0 417.5,1003.8 445.0,996.2 472.5,989.5 500.0,984.5 525.0,982.0 552.5,982.5 560.0,983.8 582.5,989.5 610.0,1002.5 637.5,1015.8 665.0,1030.5 692.5,1045.0 720.0,1060.5 746.2,1073.2 772.5,1084.2 800.0,1097.0 827.5,1110.8 855.0,1120.0 882.5,1126.2 910.0,1132.0 937.5,1137.5 963.8,1142.0 990.0,1153.2" fill="none" stroke="#2ca02c" stroke-width="2.8" stroke-linecap="butt" stroke-linejoin="round" stroke-dasharray="2.8 4.6" clip-path="url(#c3)"/>
<text x="684.0" y="1213.5" text-anchor="start" font-size="29.3">Intrinsic charm</text>
<line x1="452.5" y1="1266.0" x2="512.5" y2="1266.0" stroke="#1f77b4" stroke-width="2.8" stroke-linecap="butt"/>
<line x1="452.5" y1="1308.5" x2="512.5" y2="1308.5" stroke="#ff7f0e" stroke-width="2.8" stroke-linecap="butt" stroke-dasharray="10.4 4.5"/>
<line x1="452.5" y1="1351.5" x2="512.5" y2="1351.5" stroke="#2ca02c" stroke-width="2.8" stroke-linecap="butt" stroke-dasharray="2.8 4.6"/>
<text x="535.0" y="1276.0" text-anchor="start" font-size="29.3">Baseline dataset</text>
<text x="535.0" y="1318.5" text-anchor="start" font-size="29.3">+ LHCb <tspan font-style="italic">Z</tspan>+c (uncorrelated system)</text>
<text x="535.0" y="1361.5" text-anchor="start" font-size="29.3">+ LHCb <tspan font-style="italic">Z</tspan>+c (correlated system)</text>
<line x1="128.5" y1="790.1" x2="128.5" y2="1396.1" stroke="#000" stroke-width="2.2" stroke-linecap="butt"/>
<line x1="127.4" y1="1395.0" x2="991.5" y2="1395.0" stroke="#000" stroke-width="2.2" stroke-linecap="butt"/>
<line x1="287.0" y1="1395.0" x2="287.0" y2="1403.0" stroke="#000" stroke-width="1.7" stroke-linecap="butt"/>
<text x="287.0" y="1430.8" text-anchor="middle" font-size="29.3">0.2</text>
<line x1="463.0" y1="1395.0" x2="463.0" y2="1403.0" stroke="#000" stroke-width="1.7" stroke-linecap="butt"/>
<text x="463.0" y="1430.8" text-anchor="middle" font-size="29.3">0.4</text>
<line x1="639.0" y1="1395.0" x2="639.0" y2="1403.0" stroke="#000" stroke-width="1.7" stroke-linecap="butt"/>
<text x="639.0" y="1430.8" text-anchor="middle" font-size="29.3">0.6</text>
<line x1="815.0" y1="1395.0" x2="815.0" y2="1403.0" stroke="#000" stroke-width="1.7" stroke-linecap="butt"/>
<text x="815.0" y="1430.8" text-anchor="middle" font-size="29.3">0.8</text>
<line x1="120.5" y1="1394.8" x2="128.5" y2="1394.8" stroke="#000" stroke-width="1.7" stroke-linecap="butt"/>
<text x="112.5" y="1404.8" text-anchor="end" font-size="29.3">−0.02</text>
<line x1="120.5" y1="1274.0" x2="128.5" y2="1274.0" stroke="#000" stroke-width="1.7" stroke-linecap="butt"/>
<text x="112.5" y="1284.0" text-anchor="end" font-size="29.3">−0.01</text>
<line x1="120.5" y1="1153.2" x2="128.5" y2="1153.2" stroke="#000" stroke-width="1.7" stroke-linecap="butt"/>
<text x="112.5" y="1163.2" text-anchor="end" font-size="29.3">0</text>
<line x1="120.5" y1="1032.4" x2="128.5" y2="1032.4" stroke="#000" stroke-width="1.7" stroke-linecap="butt"/>
<text x="112.5" y="1042.4" text-anchor="end" font-size="29.3">0.01</text>
<line x1="120.5" y1="911.6" x2="128.5" y2="911.6" stroke="#000" stroke-width="1.7" stroke-linecap="butt"/>
<text x="112.5" y="921.6" text-anchor="end" font-size="29.3">0.02</text>
<line x1="120.5" y1="790.8" x2="128.5" y2="790.8" stroke="#000" stroke-width="1.7" stroke-linecap="butt"/>
<text x="112.5" y="800.8" text-anchor="end" font-size="29.3">0.03</text>
<text x="554.5" y="1474.7" text-anchor="middle" font-size="29.3"><tspan font-style="italic">x</tspan></text>
<text id="vt3" transform="translate(22.0 1098.5) rotate(-90) scale(0.95 1)" text-anchor="middle" font-size="29.3"><tspan font-style="italic">xc</tspan><tspan font-size="21" dy="-8.5">+</tspan><tspan dy="8.5">(</tspan><tspan font-style="italic">x</tspan>)</text>
<clipPath id="c4"><rect x="1234.2" y="780.0" width="863.1" height="615.0"/></clipPath>
<polygon points="1234.2,1245.0 1238.8,1215.0 1245.0,1185.0 1252.5,1155.0 1260.0,1130.0 1270.0,1102.5 1282.5,1075.0 1295.0,1055.0 1307.5,1037.5 1320.0,1020.0 1330.0,1005.0 1358.2,960.0 1386.2,921.2 1414.2,895.0 1442.5,878.8 1470.0,869.2 1495.0,864.5 1522.5,863.2 1550.0,865.5 1577.5,873.2 1605.0,886.2 1632.5,906.2 1641.0,915.0 1666.0,933.8 1691.0,955.0 1716.0,980.0 1741.0,1005.0 1766.0,1031.2 1791.0,1057.5 1816.0,1080.0 1841.0,1100.0 1866.0,1116.2 1891.0,1128.8 1916.0,1137.5 1941.0,1143.8 1966.0,1148.0 1991.0,1150.8 2016.0,1152.2 2066.0,1152.8 2097.2,1152.8 2097.2,1153.2 1966.0,1152.8 1941.0,1152.0 1916.0,1150.8 1891.0,1148.8 1866.0,1145.5 1841.0,1141.2 1816.0,1135.0 1791.0,1127.0 1766.0,1116.2 1741.0,1103.8 1716.0,1090.0 1691.0,1073.8 1666.0,1057.5 1641.0,1043.8 1632.5,1040.0 1605.0,1028.8 1577.5,1017.5 1550.0,1012.5 1522.5,1012.0 1495.0,1013.0 1470.0,1014.2 1442.5,1016.2 1414.2,1019.5 1386.2,1028.8 1358.2,1047.5 1330.0,1082.5 1321.2,1096.2 1312.2,1111.8 1299.0,1138.0 1285.8,1167.0 1272.8,1204.0 1259.5,1248.8 1246.2,1314.5 1235.8,1393.5 1235.0,1415.0 1234.2,1415.0" fill="#1f77b4" fill-opacity="0.2" stroke="none" clip-path="url(#c4)"/>
<polygon points="1234.2,1245.0 1238.8,1215.0 1245.0,1185.0 1252.5,1155.0 1260.0,1130.0 1270.0,1102.5 1282.5,1075.0 1295.0,1055.0 1307.5,1037.5 1320.0,1020.5 1330.0,1006.2 1358.2,966.2 1386.2,933.8 1414.2,913.8 1442.5,903.8 1470.0,898.0 1495.0,894.5 1522.5,893.0 1550.0,893.8 1577.5,898.0 1605.0,906.8 1632.5,920.0 1641.0,927.5 1666.0,942.5 1691.0,960.0 1716.0,982.0 1741.0,1005.5 1766.0,1031.2 1791.0,1057.5 1816.0,1080.0 1841.0,1100.0 1866.0,1116.2 1891.0,1128.8 1916.0,1137.5 1941.0,1143.8 1966.0,1148.0 1991.0,1150.8 2016.0,1152.2 2066.0,1152.8 2097.2,1152.8 2097.2,1153.2 1966.0,1152.8 1941.0,1152.0 1916.0,1150.8 1891.0,1148.5 1866.0,1145.0 1841.0,1140.0 1816.0,1133.0 1791.0,1123.8 1766.0,1111.2 1741.0,1097.5 1716.0,1081.2 1691.0,1063.8 1666.0,1046.2 1641.0,1031.2 1632.5,1028.8 1605.0,1017.0 1577.5,1012.5 1550.0,1010.8 1522.5,1011.2 1495.0,1013.0 1470.0,1015.0 1442.5,1017.5 1414.2,1021.2 1386.2,1031.2 1358.2,1049.5 1330.0,1083.8 1321.2,1096.2 1312.2,1111.8 1299.0,1138.0 1285.8,1167.0 1272.8,1204.0 1259.5,1248.8 1246.2,1314.5 1235.8,1393.5 1235.0,1415.0 1234.2,1415.0" fill="#ff7f0e" fill-opacity="0.2" stroke="none" clip-path="url(#c4)"/>
<polygon points="1234.2,1250.0 1238.8,1215.0 1245.0,1180.0 1252.5,1147.5 1260.0,1122.5 1270.0,1095.0 1282.5,1070.0 1295.0,1052.5 1307.5,1036.2 1320.0,1020.5 1330.0,1007.5 1358.2,971.2 1386.2,946.2 1414.2,932.5 1442.5,924.2 1470.0,918.8 1495.0,914.5 1522.5,910.8 1550.0,908.2 1577.5,910.5 1605.0,918.0 1632.5,930.5 1641.0,936.2 1666.0,950.0 1691.0,967.5 1716.0,987.5 1741.0,1009.5 1766.0,1033.8 1791.0,1058.8 1816.0,1080.5 1841.0,1100.2 1866.0,1116.2 1891.0,1128.8 1916.0,1137.5 1941.0,1143.8 1966.0,1148.0 1991.0,1150.8 2016.0,1152.2 2066.0,1152.8 2097.2,1152.8 2097.2,1153.2 1966.0,1152.8 1941.0,1152.0 1916.0,1150.8 1891.0,1148.5 1866.0,1145.0 1841.0,1140.2 1816.0,1133.8 1791.0,1124.5 1766.0,1112.5 1741.0,1098.8 1716.0,1084.2 1691.0,1069.5 1666.0,1056.0 1641.0,1042.5 1632.5,1037.5 1605.0,1026.2 1577.5,1025.5 1550.0,1027.0 1522.5,1029.2 1495.0,1031.2 1470.0,1033.8 1442.5,1035.0 1414.2,1037.5 1386.2,1042.5 1358.2,1055.0 1330.0,1083.8 1321.2,1096.2 1312.2,1111.8 1299.0,1138.0 1285.8,1167.0 1272.8,1204.0 1259.5,1248.8 1246.2,1314.5 1235.8,1393.5 1235.0,1415.0 1234.2,1415.0" fill="#2ca02c" fill-opacity="0.2" stroke="none" clip-path="url(#c4)"/>
<line x1="1234.2" y1="1153.0" x2="2097.3" y2="1153.0" stroke="#000" stroke-width="2" stroke-linecap="butt" stroke-dasharray="8.8 7.7"/>
<polyline points="1234.2,1342.5 1235.0,1330.0 1238.8,1290.0 1243.8,1260.0 1250.0,1232.5 1260.0,1200.0 1270.0,1172.5 1280.0,1147.5 1292.5,1121.2 1305.0,1095.0 1317.5,1070.0 1330.0,1046.2 1358.2,1003.8 1386.2,975.0 1414.2,957.5 1442.5,947.5 1470.0,941.8 1495.0,939.2 1522.5,938.8 1550.0,941.2 1577.5,947.0 1605.0,956.2 1632.5,971.2 1641.0,978.8 1666.0,996.2 1691.0,1017.5 1716.0,1040.0 1741.0,1061.2 1766.0,1081.2 1791.0,1098.8 1816.0,1113.8 1841.0,1125.0 1866.0,1133.8 1891.0,1140.0 1916.0,1144.5 1941.0,1148.0 1966.0,1150.5 1991.0,1152.0 2016.0,1152.8 2097.2,1153.0" fill="none" stroke="#1f77b4" stroke-width="2.8" stroke-linecap="butt" stroke-linejoin="round" clip-path="url(#c4)"/>
<polyline points="1234.2,1342.5 1235.0,1330.0 1238.8,1290.0 1243.8,1260.0 1250.0,1232.5 1260.0,1200.0 1270.0,1172.5 1280.0,1147.5 1292.5,1121.2 1305.0,1095.0 1317.5,1070.0 1330.0,1047.5 1358.2,1008.0 1386.2,985.0 1414.2,971.2 1442.5,963.2 1470.0,958.2 1495.0,955.0 1522.5,952.5 1550.0,952.0 1577.5,954.5 1605.0,961.2 1632.5,973.8 1641.0,977.0 1666.0,993.8 1691.0,1014.5 1716.0,1037.0 1741.0,1058.2 1766.0,1078.8 1791.0,1096.8 1816.0,1112.0 1841.0,1123.8 1866.0,1132.8 1891.0,1139.2 1916.0,1144.0 1941.0,1147.8 1966.0,1150.5 1991.0,1152.0 2016.0,1152.8 2097.2,1153.0" fill="none" stroke="#ff7f0e" stroke-width="2.8" stroke-linecap="butt" stroke-linejoin="round" stroke-dasharray="10.4 4.5" clip-path="url(#c4)"/>
<polyline points="1234.2,1342.5 1235.0,1330.0 1238.2,1290.0 1243.0,1260.0 1249.0,1232.5 1258.5,1200.0 1268.2,1172.5 1278.0,1147.5 1290.8,1121.2 1303.8,1095.0 1316.8,1070.0 1330.0,1048.2 1358.2,1011.2 1386.2,994.2 1414.2,984.2 1442.5,978.8 1470.0,975.0 1495.0,972.5 1522.5,970.0 1550.0,968.2 1577.5,968.2 1605.0,972.5 1632.5,981.2 1641.0,982.5 1666.0,998.2 1691.0,1017.5 1716.0,1039.2 1741.0,1060.0 1766.0,1080.0 1791.0,1097.8 1816.0,1113.0 1841.0,1124.5 1866.0,1133.5 1891.0,1139.8 1916.0,1144.2 1941.0,1148.0 1966.0,1150.5 1991.0,1152.0 2016.0,1152.8 2097.2,1153.0" fill="none" stroke="#2ca02c" stroke-width="2.8" stroke-linecap="butt" stroke-linejoin="round" stroke-dasharray="2.8 4.6" clip-path="url(#c4)"/>
<text x="1701.0" y="1214.0" text-anchor="start" font-size="29.3">4FNS, <tspan font-style="italic">Q</tspan> = 1.51 GeV</text>
<line x1="1575.0" y1="1266.0" x2="1635.0" y2="1266.0" stroke="#1f77b4" stroke-width="2.8" stroke-linecap="butt"/>
<line x1="1575.0" y1="1308.5" x2="1635.0" y2="1308.5" stroke="#ff7f0e" stroke-width="2.8" stroke-linecap="butt" stroke-dasharray="10.4 4.5"/>
<line x1="1575.0" y1="1351.5" x2="1635.0" y2="1351.5" stroke="#2ca02c" stroke-width="2.8" stroke-linecap="butt" stroke-dasharray="2.8 4.6"/>
<text x="1654.0" y="1276.0" text-anchor="start" font-size="29.3">Baseline dataset</text>
<text x="1654.0" y="1318.6" text-anchor="start" font-size="29.3">+ LHCb <tspan font-style="italic">Z</tspan>+c (uncorrelated system)</text>
<text x="1654.0" y="1361.5" text-anchor="start" font-size="29.3">+ LHCb <tspan font-style="italic">Z</tspan>+c (correlated system)</text>
<line x1="1234.2" y1="790.1" x2="1234.2" y2="1396.1" stroke="#000" stroke-width="2.2" stroke-linecap="butt"/>
<line x1="1233.1" y1="1395.0" x2="2097.3" y2="1395.0" stroke="#000" stroke-width="2.2" stroke-linecap="butt"/>
<line x1="1392.5" y1="1395.0" x2="1392.5" y2="1403.0" stroke="#000" stroke-width="1.7" stroke-linecap="butt"/>
<text x="1392.5" y="1430.8" text-anchor="middle" font-size="29.3">0.2</text>
<line x1="1568.7" y1="1395.0" x2="1568.7" y2="1403.0" stroke="#000" stroke-width="1.7" stroke-linecap="butt"/>
<text x="1568.7" y="1430.8" text-anchor="middle" font-size="29.3">0.4</text>
<line x1="1744.9" y1="1395.0" x2="1744.9" y2="1403.0" stroke="#000" stroke-width="1.7" stroke-linecap="butt"/>
<text x="1744.9" y="1430.8" text-anchor="middle" font-size="29.3">0.6</text>
<line x1="1921.1" y1="1395.0" x2="1921.1" y2="1403.0" stroke="#000" stroke-width="1.7" stroke-linecap="butt"/>
<text x="1921.1" y="1430.8" text-anchor="middle" font-size="29.3">0.8</text>
<line x1="1226.2" y1="1394.5" x2="1234.2" y2="1394.5" stroke="#000" stroke-width="1.7" stroke-linecap="butt"/>
<text x="1218.3" y="1404.5" text-anchor="end" font-size="29.3">−0.02</text>
<line x1="1226.2" y1="1273.8" x2="1234.2" y2="1273.8" stroke="#000" stroke-width="1.7" stroke-linecap="butt"/>
<text x="1218.3" y="1283.8" text-anchor="end" font-size="29.3">−0.01</text>
<line x1="1226.2" y1="1153.0" x2="1234.2" y2="1153.0" stroke="#000" stroke-width="1.7" stroke-linecap="butt"/>
<text x="1218.3" y="1163.0" text-anchor="end" font-size="29.3">0</text>
<line x1="1226.2" y1="1032.2" x2="1234.2" y2="1032.2" stroke="#000" stroke-width="1.7" stroke-linecap="butt"/>
<text x="1218.3" y="1042.2" text-anchor="end" font-size="29.3">0.01</text>
<line x1="1226.2" y1="911.5" x2="1234.2" y2="911.5" stroke="#000" stroke-width="1.7" stroke-linecap="butt"/>
<text x="1218.3" y="921.5" text-anchor="end" font-size="29.3">0.02</text>
<line x1="1226.2" y1="790.8" x2="1234.2" y2="790.8" stroke="#000" stroke-width="1.7" stroke-linecap="butt"/>
<text x="1218.3" y="800.8" text-anchor="end" font-size="29.3">0.03</text>
<text x="1660.0" y="1474.7" text-anchor="middle" font-size="29.3"><tspan font-style="italic">x</tspan></text>
<text id="vt4" transform="translate(1132.0 1104.5) rotate(-90) scale(1.0 1)" text-anchor="middle" font-size="29.3"><tspan font-style="italic">xc</tspan><tspan font-size="21" dy="-8.5">+</tspan><tspan dy="8.5">(</tspan><tspan font-style="italic">x</tspan>,<tspan font-style="italic">Q</tspan>)</text>
<clipPath id="c5"><rect x="128.3" y="1515.0" width="863.2" height="625.4"/></clipPath>
<polygon points="128.0,1980.0 129.5,1939.2 131.5,1905.0 135.0,1877.8 139.5,1857.2 146.5,1836.8 155.5,1809.2 164.8,1793.5 176.0,1777.5 187.5,1766.0 201.0,1757.0 224.0,1744.5 246.8,1736.5 269.5,1730.8 292.2,1727.0 315.0,1721.5 335.0,1718.2 362.5,1713.8 390.0,1710.0 417.5,1707.0 445.0,1704.5 472.5,1703.8 497.5,1705.0 525.0,1710.0 552.5,1717.5 560.0,1722.0 582.5,1730.0 610.0,1743.8 637.5,1757.5 665.0,1772.5 692.5,1791.2 720.0,1802.5 746.2,1811.2 772.5,1817.0 800.0,1830.0 827.5,1840.0 855.0,1848.0 882.5,1856.2 910.0,1862.5 937.5,1871.2 963.8,1878.0 991.2,1895.5 991.2,1895.5 963.8,1897.5 937.5,1899.0 910.0,1900.0 882.5,1898.8 855.0,1895.0 827.5,1893.0 800.0,1888.8 772.5,1885.0 746.2,1873.8 720.0,1861.2 692.5,1855.0 665.0,1848.8 637.5,1842.5 610.0,1835.0 582.5,1827.0 560.0,1822.5 552.5,1823.0 525.0,1823.8 497.5,1824.5 472.5,1827.5 445.0,1834.2 417.5,1841.2 390.0,1850.0 362.5,1862.5 335.0,1883.8 322.5,1897.5 310.0,1911.2 297.5,1935.0 282.5,1960.0 267.5,1990.0 255.0,2016.2 245.0,2037.5 232.5,2072.5 220.0,2110.0 212.5,2140.2 205.0,2180.0 128.0,2180.0" fill="#1f77b4" fill-opacity="0.2" stroke="none" clip-path="url(#c5)"/>
<polygon points="128.0,1955.0 130.0,1917.5 132.8,1893.5 139.5,1855.0 147.5,1827.5 155.5,1802.5 164.8,1784.2 176.0,1768.2 187.5,1758.0 201.0,1749.0 224.0,1740.0 246.8,1734.2 269.5,1729.5 292.2,1726.8 335.0,1724.8 362.5,1725.5 390.0,1726.2 417.5,1726.0 445.0,1725.0 472.5,1724.2 497.5,1723.8 525.0,1724.5 552.5,1731.2 560.0,1733.8 582.5,1742.5 610.0,1753.8 637.5,1766.2 665.0,1780.0 692.5,1792.5 720.0,1796.2 745.0,1794.2 772.5,1811.2 800.0,1827.5 827.5,1838.8 855.0,1847.5 882.5,1862.5 910.0,1870.0 937.5,1877.5 963.8,1882.5 991.2,1895.5 991.2,1895.5 963.8,1896.0 937.5,1896.5 910.0,1897.0 882.5,1897.5 855.0,1901.2 827.5,1897.5 800.0,1902.0 772.5,1897.0 746.2,1880.0 720.0,1862.5 692.5,1851.2 665.0,1844.5 637.5,1837.5 610.0,1830.0 582.5,1820.5 560.0,1816.2 552.5,1813.8 525.0,1810.0 497.5,1811.2 472.5,1818.8 445.0,1826.2 417.5,1834.5 390.0,1845.0 362.5,1857.5 335.0,1880.0 322.5,1895.0 307.5,1911.2 295.0,1932.5 280.0,1957.5 265.0,1987.5 252.5,2015.0 242.5,2035.0 230.0,2067.5 217.5,2105.0 208.8,2140.2 201.2,2180.0 128.0,2180.0" fill="#eb5a1e" fill-opacity="0.2" stroke="none" clip-path="url(#c5)"/>
<line x1="128.3" y1="1895.5" x2="991.5" y2="1895.5" stroke="#000" stroke-width="2" stroke-linecap="butt" stroke-dasharray="8.8 7.7"/>
<polyline points="128.0,2043.8 129.5,2048.8 131.2,2053.8 135.0,2058.8 138.8,2060.5 143.8,2058.8 150.0,2052.5 160.0,2036.2 172.5,2013.8 185.0,1991.2 197.5,1968.8 210.0,1946.2 222.5,1923.8 235.0,1903.8 242.5,1892.5 252.5,1877.5 265.0,1860.0 280.0,1841.8 295.0,1827.5 307.5,1816.8 335.0,1799.5 362.5,1787.5 390.0,1778.8 417.5,1772.5 445.0,1768.0 472.5,1765.0 497.5,1764.5 525.0,1766.8 552.5,1770.5 560.0,1772.5 582.5,1778.2 610.0,1788.8 637.5,1800.0 665.0,1810.8 692.5,1822.5 720.0,1833.8 746.2,1843.8 772.5,1852.5 800.0,1861.2 827.5,1868.8 855.0,1874.2 882.5,1878.8 910.0,1882.5 937.5,1885.8 963.8,1888.0 991.2,1895.5" fill="none" stroke="#1f77b4" stroke-width="2" stroke-linecap="butt" stroke-linejoin="round" clip-path="url(#c5)"/>
<polyline points="128.0,2093.0 132.5,2090.0 137.5,2080.0 145.0,2062.5 151.2,2047.5 160.0,2028.8 172.5,2002.5 185.0,1977.5 197.5,1955.0 210.0,1933.8 222.5,1913.8 237.5,1895.5 252.5,1873.0 265.0,1857.5 280.0,1840.5 295.0,1828.0 307.5,1817.0 335.0,1801.2 362.5,1790.0 390.0,1781.8 417.5,1775.8 445.0,1771.2 472.5,1768.2 497.5,1766.8 525.0,1766.8 552.5,1773.0 560.0,1774.5 582.5,1781.2 610.0,1791.8 637.5,1802.5 665.0,1812.5 692.5,1822.5 720.0,1830.0 745.0,1837.0 772.5,1854.5 800.0,1865.0 827.5,1868.2 855.0,1874.5 882.5,1880.0 910.0,1883.8 937.5,1887.0 963.8,1889.5 991.2,1895.5" fill="none" stroke="#ff7f0e" stroke-width="2" stroke-linecap="butt" stroke-linejoin="round" clip-path="url(#c5)"/>
<line x1="477.5" y1="2054.0" x2="537.5" y2="2054.0" stroke="#1f77b4" stroke-width="2" stroke-linecap="butt"/>
<line x1="477.5" y1="2097.5" x2="537.5" y2="2097.5" stroke="#ff7f0e" stroke-width="2" stroke-linecap="butt"/>
<text transform="translate(561.0 2064.8) scale(0.983 1)" text-anchor="start" font-size="29.3">Baseline dataset (PDF + MHOU)</text>
<text transform="translate(561.0 2108.0) scale(0.98 1)" text-anchor="start" font-size="29.3">+ EMC <tspan font-style="italic">F</tspan><tspan font-size="18.5" dy="-10.7">c</tspan><tspan font-size="18.5" dy="18.7" dx="-9.25">2</tspan><tspan dy="-8" dx="0"> (PDF + MHOU)</tspan></text>
<line x1="128.3" y1="1524.2" x2="128.3" y2="2141.5" stroke="#000" stroke-width="2.2" stroke-linecap="butt"/>
<line x1="127.2" y1="2140.4" x2="991.5" y2="2140.4" stroke="#000" stroke-width="2.2" stroke-linecap="butt"/>
<line x1="286.5" y1="2140.4" x2="286.5" y2="2148.4" stroke="#000" stroke-width="1.7" stroke-linecap="butt"/>
<text x="286.5" y="2176.5" text-anchor="middle" font-size="29.3">0.2</text>
<line x1="462.5" y1="2140.4" x2="462.5" y2="2148.4" stroke="#000" stroke-width="1.7" stroke-linecap="butt"/>
<text x="462.5" y="2176.5" text-anchor="middle" font-size="29.3">0.4</text>
<line x1="638.5" y1="2140.4" x2="638.5" y2="2148.4" stroke="#000" stroke-width="1.7" stroke-linecap="butt"/>
<text x="638.5" y="2176.5" text-anchor="middle" font-size="29.3">0.6</text>
<line x1="814.5" y1="2140.4" x2="814.5" y2="2148.4" stroke="#000" stroke-width="1.7" stroke-linecap="butt"/>
<text x="814.5" y="2176.5" text-anchor="middle" font-size="29.3">0.8</text>
<line x1="120.3" y1="2141.2" x2="128.3" y2="2141.2" stroke="#000" stroke-width="1.7" stroke-linecap="butt"/>
<text x="112.5" y="2146.8" text-anchor="end" font-size="29.3">−0.03</text>
<line x1="120.3" y1="2059.3" x2="128.3" y2="2059.3" stroke="#000" stroke-width="1.7" stroke-linecap="butt"/>
<text x="112.5" y="2064.9" text-anchor="end" font-size="29.3">−0.02</text>
<line x1="120.3" y1="1977.4" x2="128.3" y2="1977.4" stroke="#000" stroke-width="1.7" stroke-linecap="butt"/>
<text x="112.5" y="1983.0" text-anchor="end" font-size="29.3">−0.01</text>
<line x1="120.3" y1="1895.5" x2="128.3" y2="1895.5" stroke="#000" stroke-width="1.7" stroke-linecap="butt"/>
<text x="112.5" y="1901.1" text-anchor="end" font-size="29.3">0</text>
<line x1="120.3" y1="1813.6" x2="128.3" y2="1813.6" stroke="#000" stroke-width="1.7" stroke-linecap="butt"/>
<text x="112.5" y="1819.2" text-anchor="end" font-size="29.3">0.01</text>
<line x1="120.3" y1="1731.7" x2="128.3" y2="1731.7" stroke="#000" stroke-width="1.7" stroke-linecap="butt"/>
<text x="112.5" y="1737.3" text-anchor="end" font-size="29.3">0.02</text>
<line x1="120.3" y1="1649.8" x2="128.3" y2="1649.8" stroke="#000" stroke-width="1.7" stroke-linecap="butt"/>
<text x="112.5" y="1655.4" text-anchor="end" font-size="29.3">0.03</text>
<line x1="120.3" y1="1567.9" x2="128.3" y2="1567.9" stroke="#000" stroke-width="1.7" stroke-linecap="butt"/>
<text x="112.5" y="1573.5" text-anchor="end" font-size="29.3">0.04</text>
<text x="554.5" y="2220.3" text-anchor="middle" font-size="29.3"><tspan font-style="italic">x</tspan></text>
<text id="vt5" transform="translate(22.0 1856.4) rotate(-90) scale(0.95 1)" text-anchor="middle" font-size="29.3"><tspan font-style="italic">xc</tspan><tspan font-size="21" dy="-8.5">+</tspan><tspan dy="8.5">(</tspan><tspan font-style="italic">x</tspan>)</text>
<clipPath id="c6"><rect x="1201.8" y="1520.0" width="906.8" height="620.5"/></clipPath>
<line x1="1201.8" y1="1688.0" x2="2110.0" y2="1688.0" stroke="#000" stroke-width="2" stroke-linecap="butt" stroke-dasharray="8.8 7.7"/>
<polyline points="1201.8,1922.5 1202.5,1944.0 1205.0,1984.0 1210.0,2006.2 1216.2,2023.8 1223.8,2036.2 1232.5,2053.0 1246.2,2066.2 1275.0,2088.0 1304.2,2118.2 1333.2,2121.2 1362.0,2070.0 1390.8,2016.2 1419.5,1961.2 1448.2,1917.5 1477.0,1882.5 1505.8,1857.5 1534.5,1838.8 1563.2,1815.0 1592.0,1802.5 1620.0,1792.5 1649.8,1771.8 1678.5,1770.5 1706.5,1777.0 1735.5,1791.2 1764.0,1803.8 1792.8,1801.8 1821.0,1816.2 1849.8,1872.5 1878.5,1933.8 1907.2,1951.2 1936.0,1983.8 1965.2,1985.8 1993.5,2012.0 2022.2,2023.0 2051.0,2021.2 2079.8,2021.2 2108.5,2127.5" fill="none" stroke="#1f77b4" stroke-width="4.6" stroke-linecap="butt" stroke-linejoin="round" clip-path="url(#c6)"/>
<polyline points="1201.8,1840.0 1202.5,1890.0 1203.8,1925.0 1206.2,1956.2 1210.0,1985.0 1216.2,2015.0 1223.8,2038.0 1232.5,2054.5 1246.2,2070.5 1275.0,2096.2 1304.2,2125.0 1333.2,2117.0 1362.0,2068.2 1390.8,2014.5 1419.5,1955.0 1448.2,1892.0 1477.0,1834.5 1505.8,1784.5 1534.5,1741.8 1563.2,1706.5 1592.0,1682.5 1620.0,1677.5 1649.8,1686.2 1678.5,1692.5 1706.5,1702.5 1735.5,1722.5 1764.0,1743.0 1792.8,1748.0 1821.0,1825.0 1849.8,1930.0 1878.5,1992.5 1907.2,2013.8 1936.0,1997.5 1965.2,2020.0 1993.5,1997.5 2022.2,1996.8 2051.0,1995.5 2079.8,1996.2 2108.5,2122.5" fill="none" stroke="#ff7f0e" stroke-width="4.6" stroke-linecap="butt" stroke-linejoin="round" stroke-dasharray="17 7.4" clip-path="url(#c6)"/>
<polyline points="1201.8,1910.0 1202.5,1942.5 1205.0,1972.5 1210.0,2002.5 1216.2,2022.5 1223.8,2038.8 1232.5,2051.2 1246.2,2066.2 1275.0,2088.0 1304.2,2118.8 1333.2,2122.5 1362.0,2072.5 1390.8,2023.8 1419.5,1977.5 1448.2,1935.0 1477.0,1897.5 1505.8,1857.5 1534.5,1822.5 1563.2,1782.5 1592.0,1751.2 1620.0,1730.0 1649.8,1693.8 1678.5,1691.2 1706.5,1700.0 1735.5,1717.5 1764.0,1733.0 1792.8,1733.8 1821.0,1756.2 1849.8,1843.8 1878.5,1920.0 1907.2,1926.2 1936.0,1956.2 1965.2,1960.0 1993.5,2000.0 2022.2,2014.5 2051.0,2013.8 2079.8,2013.8 2108.5,2130.0" fill="none" stroke="#2ca02c" stroke-width="4.6" stroke-linecap="butt" stroke-linejoin="round" stroke-dasharray="4.6 7.6" clip-path="url(#c6)"/>
<polyline points="1201.8,1822.5 1202.5,1885.0 1203.8,1922.5 1206.2,1955.0 1210.0,1985.0 1216.2,2015.0 1223.8,2037.5 1232.5,2053.8 1246.2,2070.0 1275.0,2096.2 1304.2,2125.5 1333.2,2116.2 1362.0,2067.5 1390.8,2014.0 1419.5,1956.0 1448.2,1893.5 1477.0,1836.0 1505.8,1786.0 1534.5,1742.8 1563.2,1705.2 1592.0,1670.0 1620.0,1657.5 1649.8,1661.2 1678.5,1667.5 1706.5,1677.5 1735.5,1696.2 1764.0,1713.8 1792.8,1718.0 1821.0,1800.0 1849.8,1920.0 1878.5,1990.0 1907.2,2001.2 1936.0,1981.2 1965.2,2020.0 1993.5,1998.8 2022.2,1996.2 2051.0,1993.8 2079.8,1995.0 2108.5,2117.5" fill="none" stroke="#d62728" stroke-width="4.6" stroke-linecap="butt" stroke-linejoin="round" stroke-dasharray="29.4 7.4 4.6 7.4" clip-path="url(#c6)"/>
<text x="1832.0" y="1597.5" text-anchor="start" font-size="29.3">Intrinsic charm</text>
<line x1="1456.3" y1="1972.5" x2="1517.5" y2="1972.5" stroke="#1f77b4" stroke-width="4.6" stroke-linecap="butt"/>
<line x1="1456.3" y1="2014.3" x2="1517.5" y2="2014.3" stroke="#ff7f0e" stroke-width="4.6" stroke-linecap="butt" stroke-dasharray="17 7.4"/>
<line x1="1456.3" y1="2056.3" x2="1517.5" y2="2056.3" stroke="#2ca02c" stroke-width="4.6" stroke-linecap="butt" stroke-dasharray="4.6 7.6"/>
<line x1="1456.3" y1="2098.0" x2="1517.5" y2="2098.0" stroke="#d62728" stroke-width="4.6" stroke-linecap="butt" stroke-dasharray="29.4 7.4 4.6 7.4"/>
<text x="1540.0" y="1982.5" text-anchor="start" font-size="29.3">Baseline dataset</text>
<text x="1540.0" y="2024.6" text-anchor="start" font-size="29.3">+ EMC <tspan font-style="italic">F</tspan><tspan font-size="18.5" dy="-10.7">c</tspan><tspan font-size="18.5" dy="18.7" dx="-9.25">2</tspan></text>
<text x="1540.0" y="2066.3" text-anchor="start" font-size="29.3">+ LHCb <tspan font-style="italic">Z</tspan>+c</text>
<text x="1540.0" y="2108.0" text-anchor="start" font-size="29.3">+ EMC <tspan font-style="italic">F</tspan><tspan font-size="18.5" dy="-10.7">c</tspan><tspan font-size="18.5" dy="18.7" dx="-9.25">2</tspan><tspan dy="-8" dx="0.5"> + LHCb </tspan><tspan font-style="italic">Z</tspan>+c</text>
<line x1="1201.8" y1="1535.7" x2="1201.8" y2="2141.6" stroke="#000" stroke-width="2.2" stroke-linecap="butt"/>
<line x1="1200.7" y1="2140.5" x2="2108.6" y2="2140.5" stroke="#000" stroke-width="2.2" stroke-linecap="butt"/>
<line x1="1369.0" y1="2140.5" x2="1369.0" y2="2148.5" stroke="#000" stroke-width="1.7" stroke-linecap="butt"/>
<text x="1369.0" y="2176.5" text-anchor="middle" font-size="29.3">0.2</text>
<line x1="1553.8" y1="2140.5" x2="1553.8" y2="2148.5" stroke="#000" stroke-width="1.7" stroke-linecap="butt"/>
<text x="1553.8" y="2176.5" text-anchor="middle" font-size="29.3">0.4</text>
<line x1="1738.5" y1="2140.5" x2="1738.5" y2="2148.5" stroke="#000" stroke-width="1.7" stroke-linecap="butt"/>
<text x="1738.5" y="2176.5" text-anchor="middle" font-size="29.3">0.6</text>
<line x1="1923.3" y1="2140.5" x2="1923.3" y2="2148.5" stroke="#000" stroke-width="1.7" stroke-linecap="butt"/>
<text x="1923.3" y="2176.5" text-anchor="middle" font-size="29.3">0.8</text>
<line x1="1193.8" y1="2140.5" x2="1201.8" y2="2140.5" stroke="#000" stroke-width="1.7" stroke-linecap="butt"/>
<text x="1188.3" y="2150.5" text-anchor="end" font-size="29.3">0</text>
<line x1="1193.8" y1="1989.5" x2="1201.8" y2="1989.5" stroke="#000" stroke-width="1.7" stroke-linecap="butt"/>
<text x="1188.3" y="1999.5" text-anchor="end" font-size="29.3">1</text>
<line x1="1193.8" y1="1838.5" x2="1201.8" y2="1838.5" stroke="#000" stroke-width="1.7" stroke-linecap="butt"/>
<text x="1188.3" y="1848.5" text-anchor="end" font-size="29.3">2</text>
<line x1="1193.8" y1="1687.5" x2="1201.8" y2="1687.5" stroke="#000" stroke-width="1.7" stroke-linecap="butt"/>
<text x="1188.3" y="1697.5" text-anchor="end" font-size="29.3">3</text>
<line x1="1193.8" y1="1536.5" x2="1201.8" y2="1536.5" stroke="#000" stroke-width="1.7" stroke-linecap="butt"/>
<text x="1188.3" y="1546.5" text-anchor="end" font-size="29.3">4</text>
<text x="1649.5" y="2220.3" text-anchor="middle" font-size="29.3"><tspan font-style="italic">x</tspan></text>
<text id="vt6" transform="translate(1137.7 1840.7) rotate(-90) scale(0.945 1)" text-anchor="middle" font-size="29.3">|<tspan font-style="italic">c</tspan><tspan font-size="21" dy="-8.5">+</tspan><tspan dy="8.5">(</tspan><tspan font-style="italic">x</tspan>)/<tspan font-style="italic">δc</tspan><tspan font-size="21" dy="-8.5">+</tspan><tspan dy="8.5">(</tspan><tspan font-style="italic">x</tspan>)|</text>
</svg></body></html>
